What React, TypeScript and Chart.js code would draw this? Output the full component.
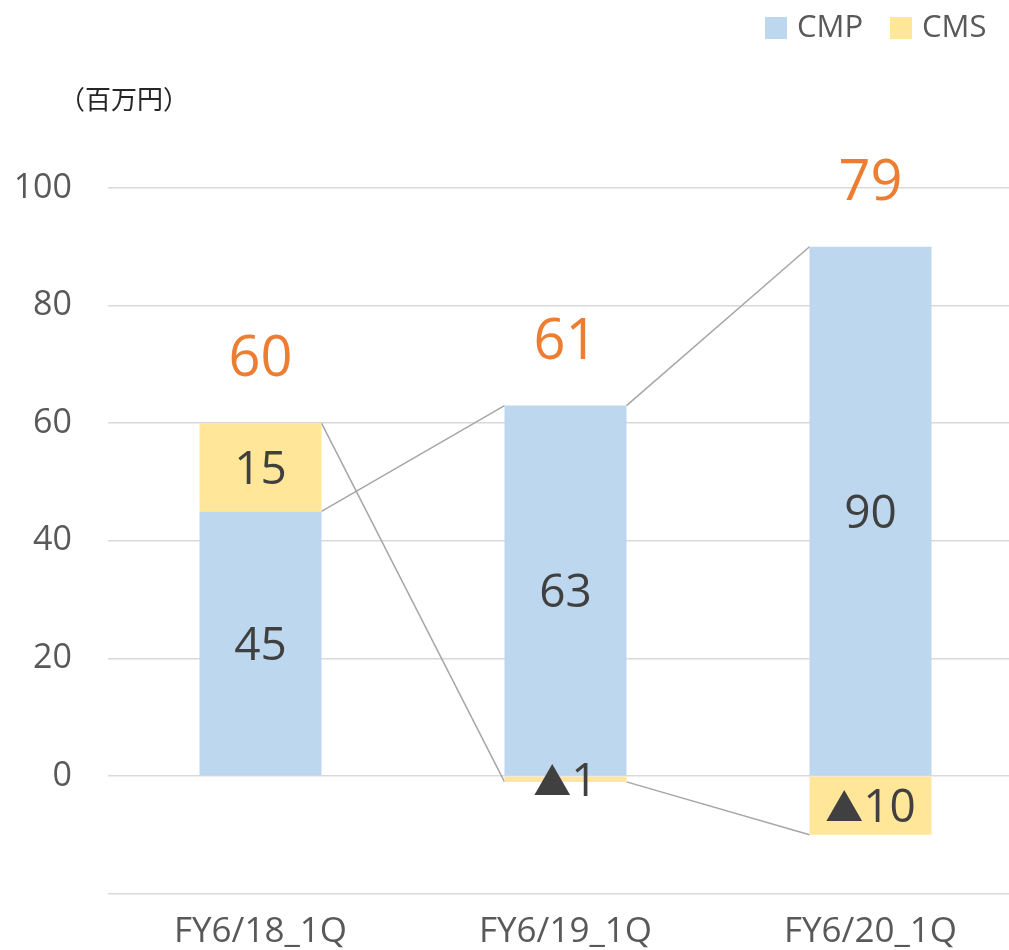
import React, { useEffect, useRef } from "react";
import { Chart, registerables } from "chart.js";

Chart.register(...registerables);

const categories = ["FY6/18_1Q", "FY6/19_1Q", "FY6/20_1Q"];
const cmpValues = [45, 63, 90];
const cmsValues = [15, -1, -10];
const totals = [60, 61, 79];
const yTicks = [-20, 0, 20, 40, 60, 80, 100];
const seriesNames = ["CMP", "CMS"];
const seriesColors = ["#BDD7EE", "#FFE699"];
const unitLabel = "（百万円）";

const FONT = "'Open Sans', 'DejaVu Sans', sans-serif";
const TRI_FONT = "'Noto Sans CJK JP', 'DejaVu Sans', sans-serif";

const drawValue = (ctx: any, v: number, x: number, y: number) => {
  if (v >= 0) {
    ctx.textAlign = "center";
    ctx.font = `46px ${FONT}`;
    ctx.fillText(String(v), x, y);
    return;
  }
  const num = String(Math.abs(v));
  ctx.font = `38px ${TRI_FONT}`;
  const tw = ctx.measureText("▲").width;
  ctx.font = `46px ${FONT}`;
  const nw = ctx.measureText(num).width;
  const total = tw + nw;
  const left = x - total / 2;
  ctx.textAlign = "left";
  ctx.font = `38px ${TRI_FONT}`;
  ctx.fillText("▲", left, y - 1);
  ctx.font = `46px ${FONT}`;
  ctx.fillText(num, left + tw, y);
  ctx.textAlign = "center";
};

const overlayPlugin = {
  id: "overlay",
  beforeDatasetsDraw(chart: any) {
    const ctx = chart.ctx;
    ctx.save();
    ctx.strokeStyle = "#A6A6A6";
    ctx.lineWidth = 1.5;
    chart.data.datasets.forEach((_: any, di: number) => {
      const meta = chart.getDatasetMeta(di);
      for (let j = 0; j < meta.data.length - 1; j++) {
        const a = meta.data[j];
        const b = meta.data[j + 1];
        ctx.beginPath();
        ctx.moveTo(a.x + a.width / 2, a.y);
        ctx.lineTo(b.x - b.width / 2, b.y);
        ctx.stroke();
      }
    });
    ctx.restore();
  },
  afterDatasetsDraw(chart: any) {
    const ctx = chart.ctx;
    ctx.save();
    ctx.textBaseline = "alphabetic";
    ctx.fillStyle = "#404040";
    chart.data.datasets.forEach((ds: any, di: number) => {
      const meta = chart.getDatasetMeta(di);
      meta.data.forEach((el: any, j: number) => {
        const cy = (el.y + el.base) / 2;
        drawValue(ctx, ds.data[j], el.x, cy + 16.5);
      });
    });
    // totals
    ctx.textAlign = "center";
    ctx.fillStyle = "#ED7D31";
    ctx.font = `56px ${FONT}`;
    const n = chart.data.labels.length;
    for (let j = 0; j < n; j++) {
      let top = Infinity;
      let x = 0;
      chart.data.datasets.forEach((_: any, di: number) => {
        const el = chart.getDatasetMeta(di).data[j];
        top = Math.min(top, el.y, el.base);
        x = el.x;
      });
      ctx.fillText(String(totals[j]), x, top - 47);
    }
    // legend
    const legendX = [765, 890];
    ctx.textAlign = "left";
    ctx.font = `31px ${FONT}`;
    seriesNames.forEach((name, i) => {
      ctx.fillStyle = seriesColors[i];
      ctx.fillRect(legendX[i], 17, 22, 22);
      ctx.fillStyle = "#595959";
      ctx.fillText(name, legendX[i] + 32, 37);
    });
    // unit label
    ctx.fillStyle = "#262626";
    ctx.textAlign = "center";
    ctx.textBaseline = "middle";
    ctx.font = `26px 'Noto Sans CJK JP', sans-serif`;
    ctx.fillText(unitLabel, 124, 99);
    ctx.restore();
  },
};

export default function App() {
  const ref = useRef<HTMLCanvasElement>(null);
  useEffect(() => {
    if (!ref.current) return;
    const chart = new Chart(ref.current, {
      type: "bar",
      data: {
        labels: categories,
        datasets: [
          { label: seriesNames[0], data: cmpValues, backgroundColor: seriesColors[0] },
          { label: seriesNames[1], data: cmsValues, backgroundColor: seriesColors[1] },
        ],
      },
      options: {
        animation: false,
        responsive: false,
        maintainAspectRatio: false,
        layout: { padding: { top: 188, left: 0, right: 0, bottom: 0 } },
        datasets: { bar: { barPercentage: 0.4, categoryPercentage: 1 } } as any,
        plugins: { legend: { display: false }, tooltip: { enabled: false } },
        scales: {
          x: {
            stacked: true,
            grid: { display: false },
            border: { display: false },
            ticks: { color: "#595959", font: { family: FONT, size: 35 }, padding: 9, maxRotation: 0 },
            afterFit: (s: any) => { s.height = 54; },
          },
          y: {
            stacked: true,
            min: yTicks[0],
            max: yTicks[yTicks.length - 1],
            afterBuildTicks: (s: any) => { s.ticks = yTicks.map((v) => ({ value: v })); },
            grid: { color: "#D9D9D9", lineWidth: 1.5, drawTicks: false },
            border: { display: false },
            ticks: {
              color: "#595959",
              font: { family: FONT, size: 34 },
              padding: 36,
              callback: (v: any) => (Number(v) === yTicks[0] ? "" : String(v)),
            },
            afterFit: (s: any) => { s.width = 108; },
          },
        },
      },
      plugins: [overlayPlugin],
    });
    return () => chart.destroy();
  }, []);
  return (
    <div style={{ position: "absolute", left: 0, top: 0, width: 1009, height: 950, overflow: "hidden", background: "#fff" }}>
      <canvas ref={ref} width={1023} height={950} style={{ width: 1023, height: 950, display: "block" }} />
    </div>
  );
}
